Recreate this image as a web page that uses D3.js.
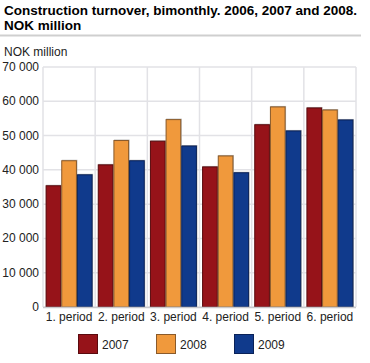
<!DOCTYPE html>
<html>
<head>
<meta charset="utf-8">
<script src="https://cdn.jsdelivr.net/npm/d3@7"></script>
<style>
body{margin:0;background:#fff;}
svg{display:block;font-family:"Liberation Sans",Arial,sans-serif;}
</style>
</head>
<body>
<svg id="chart" width="370" height="363"></svg>
<script>
var periods = ["1. period","2. period","3. period","4. period","5. period","6. period"];
var years = ["2007","2008","2009"];
var v2007 = [35500,41600,48500,41000,53300,58200];
var v2008 = [42800,48700,54800,44200,58500,57600];
var v2009 = [38700,42800,47100,39300,51500,54700];
var yTicks = [0,10000,20000,30000,40000,50000,60000,70000];
var colors = ["#961319","#f0993c","#103a8c"];
var strokes = ["#5a0a0e","#8a5a2a","#0a2258"];

var series = [v2007,v2008,v2009];
var svg = d3.select('#chart');
var plotL = 43, plotR = 356, plotT = 67, plotB = 307;

// title
var title = svg.append('text').attr('font-weight','bold').attr('font-size',13.5).attr('fill','#000');
title.append('tspan').attr('x',4).attr('y',14.5).text('Construction turnover, bimonthly. 2006, 2007 and 2008.');
title.append('tspan').attr('x',4).attr('y',29.5).text('NOK million');
svg.append('line').attr('x1',0).attr('x2',361).attr('y1',35.5).attr('y2',35.5)
    .attr('stroke','#cfcfcf').attr('stroke-width',2);
svg.append('text').attr('x',4).attr('y',55.5).attr('font-size',12).attr('fill','#222').text('NOK million');

var x = d3.scaleBand().domain(periods).range([plotL,plotR]).paddingInner(0).paddingOuter(0);
var x1 = d3.scaleBand().domain(years).range([0,x.bandwidth()]).paddingOuter(0.165).paddingInner(0);
var y = d3.scaleLinear().domain([0,70000]).range([plotB,plotT]);

//gridlines
svg.append('g').selectAll('line').data(yTicks).enter().append('line')
    .attr('x1',plotL).attr('x2',plotR)
    .attr('y1',function(d){return y(d);}).attr('y2',function(d){return y(d);})
    .attr('stroke','#e2e2e6').attr('stroke-width',1.5);
var vlines = periods.map(function(p){return x(p);}).concat(plotR);
svg.append('g').selectAll('line').data(vlines).enter().append('line')
    .attr('x1',function(d){return d;}).attr('x2',function(d){return d;})
    .attr('y1',plotT).attr('y2',plotB)
    .attr('stroke','#e2e2e6').attr('stroke-width',1.5);

// y labels
svg.append('g').selectAll('text').data(yTicks).enter().append('text')
    .attr('x',39).attr('y',function(d){return y(d)+4;})
    .attr('text-anchor','end').attr('font-size',12).attr('fill','#222')
    .text(function(d){return d==0?'0':d3.format(',')(d).replace(/,/g,' ');});

// bars: gray shadow behind, then coloured bar
var groups = svg.append('g').selectAll('g').data(periods).enter().append('g')
    .attr('transform',function(d){return 'translate('+x(d)+',0)';});
years.forEach(function(yr,k){
    groups.append('rect')
        .attr('x',function(d){return x1(yr)+0.5;})
        .attr('y',function(d,i){return y(series[k][i])-0.5;})
        .attr('width',x1.bandwidth())
        .attr('height',function(d,i){return plotB-y(series[k][i])+0.5;})
        .attr('fill','#b8b8b8');
    groups.append('rect')
        .attr('x',function(d){return x1(yr)+0.5;})
        .attr('y',function(d,i){return y(series[k][i])+0.5;})
        .attr('width',x1.bandwidth()-1)
        .attr('height',function(d,i){return plotB-y(series[k][i])-0.5;})
        .attr('fill',colors[k]).attr('stroke',strokes[k]).attr('stroke-width',1);
});

// bottom axis line
svg.append('line').attr('x1',plotL).attr('x2',plotR).attr('y1',plotB+0.5).attr('y2',plotB+0.5)
    .attr('stroke','#c8c8cc').attr('stroke-width',1.5);

// x labels
svg.append('g').selectAll('text').data(periods).enter().append('text')
    .attr('x',function(d){return x(d)+x.bandwidth()/2;}).attr('y',321)
    .attr('text-anchor','middle').attr('font-size',12).attr('fill','#222')
    .text(function(d){return d;});

// legend
var legX = [78,156,234];
var leg = svg.append('g').selectAll('g').data(years).enter().append('g')
    .attr('transform',function(d,i){return 'translate('+legX[i]+',334)';});
leg.append('rect').attr('x',0.5).attr('y',0.5).attr('width',19).attr('height',19)
    .attr('fill',function(d,i){return colors[i];})
    .attr('stroke',function(d,i){return strokes[i];});
leg.append('text').attr('x',24).attr('y',15).attr('font-size',12).attr('fill','#222')
    .text(function(d){return d;});
</script>
</body>
</html>
